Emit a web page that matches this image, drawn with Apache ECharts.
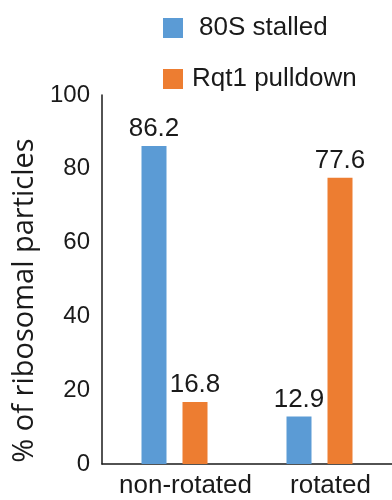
<!DOCTYPE html>
<html>
<head>
<meta charset="utf-8">
<script src="https://cdn.jsdelivr.net/npm/echarts@6/dist/echarts.min.js"></script>
<style>
  html, body { margin: 0; padding: 0; background: #fff; }
  #chart { width: 392px; height: 500px; }
</style>
</head>
<body>
<div id="chart"></div>
<script>
// Ribosome conformation: share of particles per state
const categories = ['non-rotated', 'rotated'];
const stalled80S = [86.2, 12.9];
const rqt1Pulldown = [16.8, 77.6];
const seriesNames = ['80S stalled', 'Rqt1 pulldown'];
const yTicks = [0, 20, 40, 60, 80, 100];

const BLUE = '#5B9BD5';
const ORANGE = '#ED7D31';
const INK = '#1a1a1a';
const FONT = '"Liberation Sans", Arial, sans-serif';

const chart = echarts.init(document.getElementById('chart'), null, { renderer: 'canvas' });

const valueLabel = {
  show: true,
  position: 'top',
  distance: 4,
  color: INK,
  fontFamily: FONT,
  fontSize: 26,
  formatter: p => p.value.toFixed(1)
};

chart.setOption({
  animation: false,
  backgroundColor: '#fff',
  textStyle: { fontFamily: FONT, color: INK },
  legend: {
    orient: 'vertical',
    left: 158,
    top: 10,
    itemWidth: 20,
    itemHeight: 20,
    itemGap: 25,
    icon: 'rect',
    textStyle: { fontFamily: FONT, fontSize: 26, color: INK },
    data: [
      { name: seriesNames[0], textStyle: { padding: [0, 0, 0, 11] } },
      { name: seriesNames[1], textStyle: { padding: [0, 0, 0, 4] } }
    ]
  },
  grid: { left: 102, right: 0, top: 95, bottom: 36, containLabel: false },
  xAxis: {
    type: 'category',
    data: categories,
    axisLine: { show: true, lineStyle: { color: INK, width: 1.5 } },
    axisTick: { show: false },
    axisLabel: {
      interval: 0,
      color: INK,
      fontFamily: FONT,
      fontSize: 26,
      margin: 9,
      padding: [0, 0, 0, 22]
    }
  },
  yAxis: {
    type: 'value',
    min: yTicks[0],
    max: yTicks[yTicks.length - 1],
    interval: yTicks[1] - yTicks[0],
    name: '% of ribosomal particles',
    nameLocation: 'middle',
    nameGap: 60,
    nameRotate: 90,
    nameTextStyle: {
      fontFamily: '"Open Sans", sans-serif',
      fontSize: 29,
      color: INK,
      padding: [0, 42, 0, 0]
    },
    axisLine: { show: true, lineStyle: { color: INK, width: 1.5 } },
    axisTick: { show: false },
    splitLine: { show: false },
    axisLabel: { color: INK, fontFamily: FONT, fontSize: 24, margin: 12 }
  },
  series: [
    {
      name: seriesNames[0],
      type: 'bar',
      data: stalled80S,
      barWidth: 25,
      barGap: '64%',
      itemStyle: { color: BLUE },
      label: valueLabel
    },
    {
      name: seriesNames[1],
      type: 'bar',
      data: rqt1Pulldown,
      barWidth: 25,
      barGap: '64%',
      itemStyle: { color: ORANGE },
      label: valueLabel
    }
  ]
});
</script>
</body>
</html>
